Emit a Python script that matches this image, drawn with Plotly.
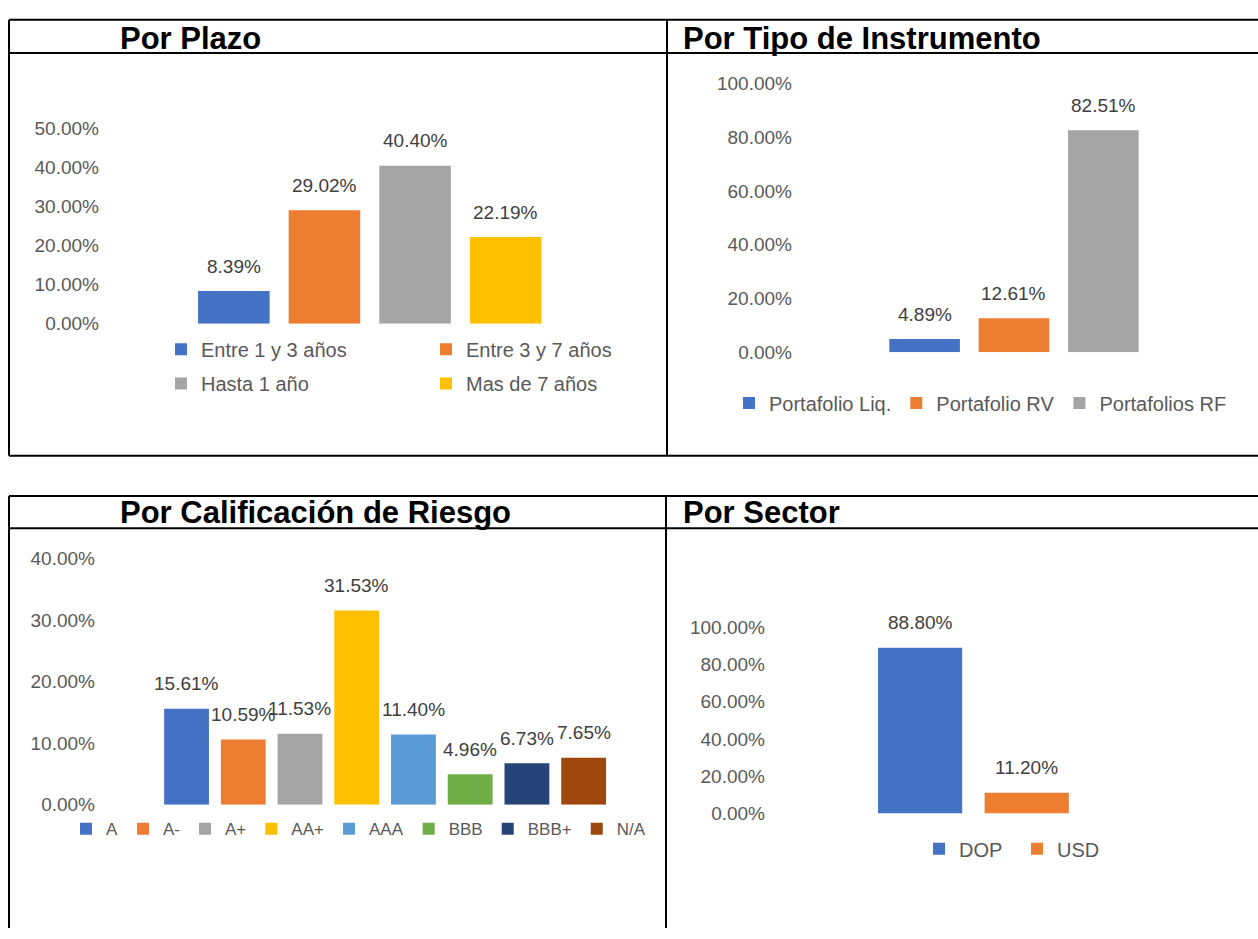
import plotly.graph_objects as go

W, H = 1258, 939


def X(px):
    return px / W


def Y(py):
    return 1 - py / H


# ---------------- data ----------------
plazo_cats = ["Entre 1 y 3 años", "Entre 3 y 7 años", "Hasta 1 año", "Mas de 7 años"]
plazo_vals = [8.39, 29.02, 40.40, 22.19]

instr_cats = ["Portafolio Liq.", "Portafolio RV", "Portafolios RF"]
instr_vals = [4.89, 12.61, 82.51]

calif_cats = ["A", "A-", "A+", "AA+", "AAA", "BBB", "BBB+", "N/A"]
calif_vals = [15.61, 10.59, 11.53, 31.53, 11.40, 4.96, 6.73, 7.65]

sector_cats = ["DOP", "USD"]
sector_vals = [88.80, 11.20]

titles = ["Por Plazo", "Por Tipo de Instrumento", "Por Calificación de Riesgo", "Por Sector"]

# ---------------- styles ----------------
office = ["#4472C4", "#ED7D31", "#A5A5A5", "#FFC000", "#5B9BD5", "#70AD47", "#264478", "#9E480E"]
FONT = "Liberation Sans, Arial, sans-serif"
TICK_COLOR = "#595959"
LABEL_COLOR = "#404040"

fig = go.Figure()

panels = [
    dict(cats=plazo_cats, vals=plazo_vals, ax="", xd=(100, 551), yd=(321, 121), yr=(0, 50), dt=10,
         xr=(-1.477, 3.5), legends=["legend", "legend", "legend2", "legend2"]),
    dict(cats=instr_cats, vals=instr_vals, ax="2", xd=(793, 1148), yd=(350, 75), yr=(0, 100), dt=20,
         xr=(-1.473, 2.5), legends=["legend3"] * 3),
    dict(cats=calif_cats, vals=calif_vals, ax="3", xd=(96, 612), yd=(813, 561), yr=(0, 40), dt=10,
         xr=(-1.596, 7.5), legends=["legend4"] * 8),
    dict(cats=sector_cats, vals=sector_vals, ax="4", xd=(766, 1080), yd=(822, 631), yr=(0, 100), dt=20,
         xr=(-1.446, 1.5), legends=["legend5"] * 2),
]

annotations = []
for p in panels:
    for i, (c, v) in enumerate(zip(p["cats"], p["vals"])):
        fig.add_trace(go.Bar(
            x=[c], y=[v], name=c, width=0.79,
            marker=dict(color=office[i], line=dict(width=0)),
            xaxis="x" + p["ax"], yaxis="y" + p["ax"],
            legend=p["legends"][i], hoverinfo="skip",
        ))
        annotations.append(dict(
            x=c, y=v, xref="x" + p["ax"], yref="y" + p["ax"],
            text=f"{v:.2f}%", showarrow=False, yanchor="middle", yshift=25,
            font=dict(family=FONT, size=19, color=LABEL_COLOR),
        ))
    fig.layout["xaxis" + p["ax"]] = dict(
        domain=[X(p["xd"][0]), X(p["xd"][1])], range=list(p["xr"]), type="category",
        categoryarray=p["cats"], showticklabels=False, showgrid=False, zeroline=False,
        showline=False, ticks="", anchor="y" + p["ax"], fixedrange=True,
    )
    fig.layout["yaxis" + p["ax"]] = dict(
        domain=[Y(p["yd"][0]), Y(p["yd"][1])], range=list(p["yr"]), dtick=p["dt"],
        tickformat=".2f", ticksuffix="%", showgrid=False, zeroline=False, showline=False,
        ticks="", anchor="x" + p["ax"], fixedrange=True,
        tickfont=dict(family=FONT, size=19, color=TICK_COLOR),
    )

# titles
title_pos = [(118, 29), (681, 29), (118, 514), (681, 514)]
for t, (px, py) in zip(titles, title_pos):
    annotations.append(dict(
        x=X(px), y=Y(py), xref="paper", yref="paper", text=f"<b>{t}</b>", showarrow=False,
        xanchor="left", yanchor="middle", font=dict(family=FONT, size=31, color="#000000"),
    ))

# table borders
shapes = []


def hline(py, x0=9, x1=1258):
    shapes.append(dict(type="line", xref="paper", yref="paper", x0=X(x0), x1=X(x1),
                       y0=Y(py), y1=Y(py), line=dict(color="black", width=2)))


def vline(px, y0, y1):
    shapes.append(dict(type="line", xref="paper", yref="paper", x0=X(px), x1=X(px),
                       y0=Y(y0), y1=Y(y1), line=dict(color="black", width=2)))


for py in (10, 44, 456, 497, 530):
    hline(py)
vline(9, 10, 456)
vline(667, 10, 456)
vline(9, 497, 939)
vline(666, 497, 939)

legend_base = dict(orientation="h", xanchor="left", yanchor="middle", bgcolor="rgba(0,0,0,0)",
                   font=dict(family=FONT, size=20, color=TICK_COLOR), tracegroupgap=0,
                   itemclick=False, itemdoubleclick=False)

fig.update_layout(
    width=W, height=H, margin=dict(l=0, r=0, t=0, b=0),
    paper_bgcolor="white", plot_bgcolor="white", barmode="overlay",
    showlegend=True, annotations=annotations, shapes=shapes,
    legend=dict(legend_base, x=X(161), y=Y(347), entrywidth=220),
    legend2=dict(legend_base, x=X(161), y=Y(382), entrywidth=220),
    legend3=dict(legend_base, x=X(729), y=Y(402)),
    legend4=dict(legend_base, x=X(66), y=Y(838), font=dict(family=FONT, size=17, color=TICK_COLOR)),
    legend5=dict(legend_base, x=X(919), y=Y(858), entrywidth=53),
)

fig.write_html(
    "out.html",
    config={"displayModeBar": False, "staticPlot": True},
    post_script=(
        "document.body.style.margin='0';document.body.style.padding='0';"
        "document.documentElement.style.overflow='hidden';"
        "var d=document.querySelector('.plotly-graph-div');"
        "d.style.position='fixed';d.style.top='0px';d.style.left='0px';"
    ),
)
